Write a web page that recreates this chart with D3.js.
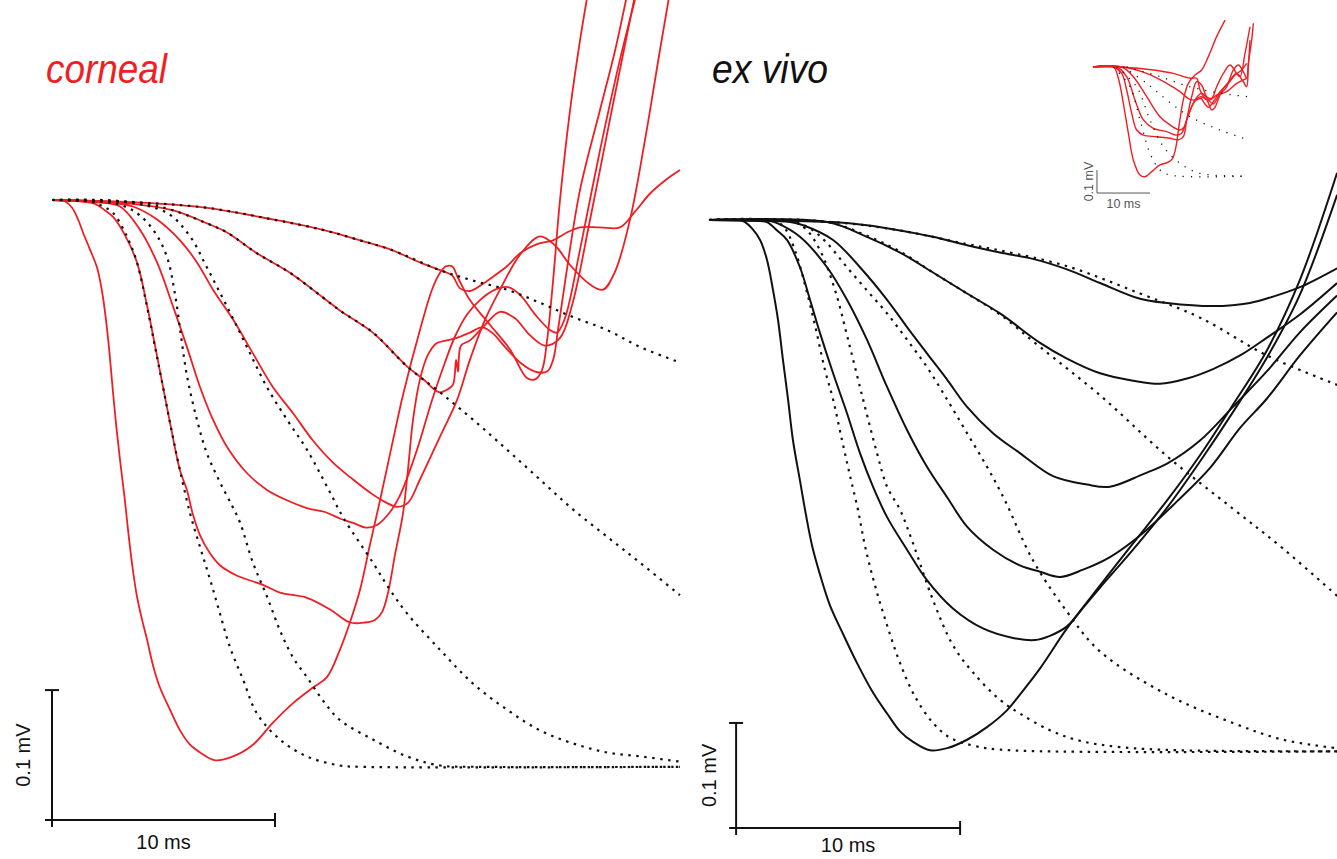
<!DOCTYPE html>
<html>
<head>
<meta charset="utf-8">
<script src="https://cdnjs.cloudflare.com/ajax/libs/d3/7.8.5/d3.min.js"></script>
<style>
  body { margin: 0; background: #fff; }
  text { font-family: Arial, "Liberation Sans", Helvetica, sans-serif; }
</style>
</head>
<body>
<script>
var width = 1337, height = 859;

// time in ms, potential in microvolts
var cornealTraces = [
  [[0,0],[0.36,0],[0.58,-1],[0.90,-6],[1.17,-15],[1.39,-25],[1.70,-38],[2.02,-52],[2.24,-70],[2.42,-92],[2.58,-118],[2.72,-145],[2.87,-172],[3.05,-200],[3.27,-231],[3.41,-254],[3.63,-285],[3.81,-305],[4.04,-323],[4.26,-338],[4.53,-358],[4.84,-375],[5.29,-392],[5.74,-408],[6.19,-419],[6.64,-425],[7.31,-431],[8.12,-428],[9.01,-419],[9.91,-402],[10.81,-387],[11.70,-375],[12.33,-367],[12.91,-346],[13.36,-325],[13.81,-300],[14.26,-265],[14.71,-231],[15.25,-188],[15.74,-150],[16.50,-100],[17.04,-69],[17.40,-56],[17.67,-51],[17.94,-51],[18.21,-60],[18.74,-77],[19.64,-96],[20.54,-115],[21.30,-137],[21.66,-138],[21.97,-131],[22.20,-108],[22.47,-62],[22.78,0],[23.23,69],[23.68,123],[24.13,169]],
  [[0,0],[1.26,-1],[1.93,-3],[2.38,-8],[2.74,-13],[3.27,-27],[3.81,-48],[4.26,-81],[4.62,-112],[4.98,-144],[5.38,-179],[5.74,-208],[6.05,-223],[6.32,-242],[6.64,-258],[7.09,-272],[7.53,-281],[8.30,-289],[9.46,-296],[10.22,-302],[11.43,-306],[12.47,-315],[13.36,-325],[14.04,-325],[14.48,-323],[14.80,-317],[15.07,-302],[15.38,-273],[15.74,-241],[15.96,-208],[16.19,-169],[16.50,-138],[16.86,-119],[17.26,-110],[17.71,-108],[18.16,-106],[18.74,-102],[19.28,-98],[19.73,-102],[20.31,-113],[20.99,-125],[21.66,-132],[22.20,-132],[22.47,-123],[22.69,-100],[23.05,-58],[23.68,8],[24.57,69],[25.25,115],[25.92,169]],
  [[0,0],[2.15,-2],[3.05,-5],[3.95,-23],[4.71,-48],[5.43,-82],[6.05,-113],[6.64,-144],[7.22,-169],[7.85,-190],[8.74,-210],[9.64,-223],[10.54,-231],[11.43,-237],[12.24,-240],[12.91,-245],[13.59,-249],[14.08,-252],[14.57,-250],[15.16,-240],[15.61,-227],[16.05,-208],[16.50,-185],[17.04,-154],[17.62,-125],[18.07,-105],[18.61,-88],[19.19,-77],[19.87,-69],[20.45,-67],[20.99,-73],[21.66,-88],[22.33,-100],[22.65,-102],[23.00,-91],[23.68,-38],[24.57,38],[25.47,108],[26.37,169]],
  [[0,0],[2.60,-2],[3.63,-5],[4.71,-15],[5.74,-31],[6.50,-48],[7.22,-69],[8.12,-92],[9.01,-118],[9.91,-144],[10.81,-164],[11.70,-185],[12.60,-202],[13.50,-215],[14.26,-225],[14.80,-231],[15.47,-236],[15.96,-233],[16.50,-215],[17.40,-182],[18.16,-154],[18.74,-123],[19.42,-92],[20.09,-69],[20.99,-42],[21.88,-28],[22.56,-35],[23.23,-50],[24.13,-65],[24.71,-69],[25.25,-55],[25.92,-15],[26.59,46],[27.26,115],[27.80,169]],
  [[0,0],[3.05,-2],[5.43,-8],[6.95,-18],[7.85,-25],[9.19,-41],[10.67,-56],[12.15,-75],[12.91,-85],[14.39,-102],[15.92,-128],[16.73,-139],[17.09,-145],[17.40,-148],[17.71,-146],[17.98,-142],[18.12,-123],[18.21,-132],[18.34,-112],[18.74,-108],[19.42,-96],[20.09,-86],[20.76,-91],[21.43,-104],[22.11,-112],[22.78,-106],[23.32,-81],[24.13,-15],[25.02,62],[25.83,131],[26.28,169]],
  [[0,0],[3.95,-2],[6.95,-6],[9.91,-15],[12.15,-23],[13.81,-31],[15.16,-38],[16.50,-48],[17.40,-54],[17.94,-58],[18.30,-68],[18.74,-70],[19.28,-65],[19.78,-59],[20.40,-51],[20.99,-41],[21.75,-34],[22.47,-31],[23.09,-25],[23.68,-21],[24.57,-21],[25.47,-21],[26.14,-9],[26.82,5],[27.49,15],[28.16,23]]
];

var cornealFits = [
  [[0,0],[1.70,-1],[2.29,-5],[2.74,-10],[3.36,-28],[3.81,-48],[4.26,-82],[4.62,-113],[4.98,-144],[5.38,-179],[5.74,-208],[6.19,-241],[6.64,-267],[7.09,-292],[7.53,-318],[7.98,-344],[8.57,-369],[9.19,-395],[10.22,-415],[11.43,-428],[12.91,-435],[13.81,-436],[28.16,-436]],
  [[0,0],[2.15,-1],[3.27,-5],[3.95,-12],[4.62,-25],[5.16,-44],[5.52,-73],[5.78,-104],[6.05,-135],[6.50,-169],[6.95,-195],[7.53,-217],[8.07,-235],[8.43,-248],[9.01,-279],[9.64,-305],[10.22,-331],[10.81,-352],[11.43,-367],[12.15,-385],[12.91,-400],[14.39,-415],[15.92,-428],[17.40,-435],[19.19,-436],[28.16,-436]],
  [[0,0],[3.05,-1],[5.16,-10],[6.19,-28],[6.95,-52],[7.85,-82],[8.74,-113],[9.64,-144],[10.54,-169],[11.43,-192],[12.47,-225],[13.05,-244],[14.39,-279],[15.16,-300],[15.92,-318],[17.40,-346],[18.88,-372],[20.40,-392],[21.88,-408],[23.36,-418],[24.89,-425],[26.37,-428],[28.16,-432]],
  [[0,0],[3.95,-2],[5.43,-8],[6.95,-18],[7.85,-25],[9.19,-41],[10.67,-56],[12.15,-75],[12.91,-85],[14.39,-102],[15.92,-128],[17.40,-148],[18.88,-169],[20.40,-192],[21.88,-215],[23.36,-238],[24.89,-259],[26.37,-279],[28.16,-304]],
  [[0,0],[3.95,-2],[6.95,-6],[9.91,-15],[12.15,-23],[13.81,-31],[15.16,-38],[17.40,-54],[18.88,-62],[20.40,-69],[21.88,-79],[23.36,-90],[24.89,-100],[26.37,-113],[28.16,-125]]
];

var exvivoTraces = [
  [[0,0],[1.38,0],[1.61,-2],[1.92,-8],[2.28,-19],[2.59,-38],[2.86,-67],[3.08,-95],[3.30,-133],[3.53,-171],[3.75,-210],[4.06,-248],[4.33,-281],[4.60,-310],[4.96,-338],[5.40,-367],[6.00,-395],[6.61,-422],[7.32,-450],[7.95,-470],[8.53,-487],[9.11,-497],[9.87,-505],[10.63,-503],[11.52,-495],[12.41,-483],[13.30,-467],[13.88,-452],[14.78,-427],[15.98,-389],[17.46,-348],[18.93,-308],[20.45,-267],[21.92,-224],[23.39,-176],[24.91,-124],[26.38,-57],[28.04,45]],
  [[0,0],[2.28,-1],[2.59,-2],[3.04,-10],[3.48,-19],[4.06,-45],[4.51,-76],[4.96,-108],[5.54,-146],[6.16,-184],[6.74,-222],[7.32,-254],[7.95,-283],[8.84,-314],[9.73,-343],[10.89,-370],[12.23,-389],[13.57,-398],[14.55,-400],[15.22,-396],[15.98,-387],[16.79,-367],[17.46,-350],[18.93,-314],[20.45,-274],[21.92,-230],[23.39,-183],[24.91,-131],[26.38,-71],[28.04,24]],
  [[0,0],[2.72,-1],[3.04,-3],[4.06,-16],[5.27,-45],[6.16,-76],[7.05,-114],[7.95,-159],[8.84,-200],[9.73,-235],[10.63,-264],[11.52,-292],[12.68,-314],[13.88,-329],[14.78,-335],[15.67,-340],[16.70,-333],[17.90,-321],[19.38,-298],[20.89,-268],[22.37,-236],[23.71,-198],[24.91,-170],[26.38,-129],[28.04,-88]],
  [[0,0],[3.62,-2],[4.20,-5],[5.54,-19],[6.74,-45],[7.95,-76],[8.84,-102],[9.73,-127],[10.63,-152],[11.52,-178],[12.68,-203],[13.88,-222],[15.36,-244],[16.88,-252],[17.90,-254],[19.38,-242],[20.45,-232],[21.92,-210],[23.39,-178],[24.91,-144],[26.38,-107],[28.04,-72]],
  [[0,0],[5.27,-2],[7.05,-16],[8.53,-31],[10.00,-50],[11.52,-70],[12.99,-89],[14.78,-117],[15.98,-132],[17.46,-146],[18.93,-153],[20.13,-156],[21.34,-151],[22.50,-142],[23.71,-129],[24.91,-112],[26.38,-90],[28.04,-60]],
  [[0,0],[5.54,-2],[7.05,-5],[8.53,-10],[10.00,-16],[11.52,-24],[12.99,-31],[14.46,-37],[15.98,-47],[17.46,-60],[19.24,-75],[20.45,-79],[22.50,-82],[24.15,-79],[25.18,-73],[26.38,-64],[28.04,-46]]
];

var exvivoFits = [
  [[0,0],[2.95,-1],[3.39,-8],[3.84,-29],[4.29,-62],[4.73,-100],[5.18,-143],[5.54,-171],[5.94,-210],[6.29,-243],[6.65,-276],[6.96,-310],[7.41,-348],[7.95,-386],[8.53,-422],[9.20,-454],[10.00,-479],[10.76,-493],[11.88,-501],[13.44,-505],[28.04,-506]],
  [[0,0],[3.62,-1],[4.29,-8],[4.96,-29],[5.63,-67],[6.21,-114],[6.88,-171],[7.50,-222],[7.95,-254],[8.53,-276],[9.11,-308],[10.00,-362],[10.89,-405],[11.79,-431],[12.99,-457],[13.88,-470],[15.22,-486],[16.56,-496],[18.35,-502],[21.03,-505],[28.04,-506]],
  [[0,0],[3.62,-1],[4.51,-8],[5.27,-22],[6.16,-45],[7.05,-67],[7.95,-89],[8.84,-114],[9.73,-140],[10.63,-171],[11.52,-203],[12.41,-235],[13.21,-267],[14.46,-324],[15.98,-373],[17.46,-411],[20.45,-452],[23.39,-479],[25.63,-495],[28.04,-503]],
  [[0,0],[5.27,-2],[7.05,-15],[8.53,-30],[10.00,-50],[11.52,-70],[12.99,-90],[14.78,-121],[17.46,-167],[20.45,-225],[23.39,-275],[25.63,-313],[28.04,-358]],
  [[0,0],[5.54,-2],[8.53,-10],[11.52,-23],[12.99,-29],[15.98,-44],[19.24,-70],[21.92,-93],[24.91,-129],[28.04,-157]]
];

var insetTraces = [
  [[0,0],[3.84,0],[4.78,-49],[5.72,-158],[6.67,-288],[7.61,-404],[8.87,-470],[9.81,-477],[11.07,-455],[12.64,-426],[14.21,-414],[15.03,-397],[15.66,-346],[16.29,-246],[17.04,-143],[17.99,-71],[19.25,-35],[20.50,-13],[21.76,45],[23.33,132],[24.91,204]],
  [[0,0],[3.84,0],[5.41,-28],[6.35,-100],[7.30,-201],[8.24,-274],[9.50,-296],[12.01,-303],[14.53,-310],[16.10,-317],[17.04,-303],[17.67,-230],[18.62,-129],[19.56,-64],[20.50,-78],[21.45,-129],[22.39,-136],[23.33,-86],[24.59,-28],[25.85,9],[27.11,-28],[27.74,-42],[28.68,59],[29.62,175]],
  [[0,0],[4.47,0],[6.35,-42],[7.92,-143],[9.50,-230],[11.38,-267],[13.90,-281],[15.79,-296],[16.73,-288],[17.67,-230],[18.93,-159],[20.19,-130],[21.45,-143],[22.39,-187],[23.02,-175],[23.96,-122],[25.22,-86],[26.48,-13],[27.42,9],[28.36,-20],[28.99,-49],[29.31,16],[29.94,117],[30.25,190]],
  [[0,0],[5.41,0],[7.61,-42],[10.13,-129],[12.64,-216],[14.53,-252],[16.42,-274],[17.17,-262],[17.99,-209],[19.25,-143],[20.50,-114],[21.76,-143],[22.70,-161],[23.96,-114],[25.85,-57],[27.11,-28],[28.36,-64],[28.99,-86],[29.31,1],[29.62,117]],
  [[0,0],[5.72,0],[10.13,-28],[13.90,-71],[16.42,-107],[18.30,-141],[19.56,-143],[20.31,-136],[21.13,-161],[21.76,-175],[22.70,-151],[23.96,-107],[25.53,-71],[26.79,-35],[28.04,-13],[28.99,16]],
  [[0,0],[5.72,-1],[11.38,-13],[15.16,-28],[18.30,-49],[19.56,-49],[20.19,-100],[21.13,-136],[22.08,-143],[23.33,-122],[25.22,-107],[27.11,-71],[28.99,-49]]
];

var insetFits = [
  [[3.84,0],[6.98,-86],[8.87,-230],[10.75,-375],[12.64,-448],[14.53,-470],[29.31,-474]],
  [[4.47,0],[8.24,-86],[10.75,-230],[13.27,-346],[16.42,-419],[20.19,-462],[29.31,-474]],
  [[5.72,0],[10.13,-71],[13.90,-143],[18.30,-216],[23.96,-274],[29.31,-317]],
  [[6.35,0],[12.64,-42],[18.30,-86],[23.96,-114],[29.31,-129]]
];

var panelTitles = ["corneal", "ex vivo"];
var barLabels = ["0.1 mV", "10 ms"];
var barSize = [10, -100];          // 10 ms, 0.1 mV
var barOrigin = [[0, -477], [1.21, -579], [0.75, -548]];

var RED = "#f01e23";

function TraceChart() {

  var svg;

  function _init() {
    console.log("TraceChart::Init");
    svg = d3.select("body").append("svg")
          .attr("width", width)
          .attr("height", height)
          .style("display", "block");
  }

  function _panel(opts) {
    var x = d3.scaleLinear().domain([0, 10]).range(opts.xr);
    var y = d3.scaleLinear().domain([0, -100]).range(opts.yr);

    var line = d3.line()
      .x(function(d) { return x(d[0]); })
      .y(function(d) { return y(d[1]); })
      .curve(d3.curveCatmullRom.alpha(0.5));

    var g = svg.append("g").attr("class", opts.name);

    g.selectAll("path.trace")
      .data(opts.traces)
      .enter().append("path")
        .attr("class", "trace")
        .attr("d", line)
        .attr("fill", "none")
        .attr("stroke", opts.color)
        .attr("stroke-width", opts.sw)
        .attr("stroke-linejoin", "round");

    g.selectAll("path.fit")
      .data(opts.fits)
      .enter().append("path")
        .attr("class", "fit")
        .attr("d", line)
        .attr("fill", "none")
        .attr("stroke", "#111")
        .attr("stroke-width", opts.dotW)
        .attr("stroke-dasharray", opts.dash);

    // scale bars
    var o = opts.bar;
    var bx0 = x(o[0]), by0 = y(o[1]);
    var bx1 = x(o[0] + barSize[0]), by1 = y(o[1] - barSize[1]);
    var bars = g.append("g")
      .attr("stroke", opts.barColor)
      .attr("stroke-width", opts.barW)
      .attr("fill", "none");
    bars.append("line").attr("x1", bx0).attr("y1", by1).attr("x2", bx0).attr("y2", by0 + opts.tick);
    bars.append("line").attr("x1", bx0 - opts.tick).attr("y1", by0).attr("x2", bx1).attr("y2", by0);
    if (opts.tick > 0) {
      bars.append("line").attr("x1", bx0 - opts.tick).attr("y1", by1).attr("x2", bx0 + opts.tick).attr("y2", by1);
      bars.append("line").attr("x1", bx1).attr("y1", by0 - opts.tick).attr("x2", bx1).attr("y2", by0 + opts.tick);
    }

    g.append("text")
      .attr("transform", "translate(" + (bx0 - opts.vOff) + "," + ((by0 + by1) / 2) + ") rotate(-90)")
      .attr("text-anchor", "middle")
      .attr("font-size", opts.fs)
      .attr("fill", opts.barColor)
      .text(barLabels[0]);

    g.append("text")
      .attr("x", (bx0 + bx1) / 2)
      .attr("y", by0 + opts.hOff)
      .attr("text-anchor", "middle")
      .attr("font-size", opts.fs)
      .attr("fill", opts.barColor)
      .text(barLabels[1]);

    if (opts.title) {
      g.append("text")
        .attr("x", opts.titlePos[0])
        .attr("y", opts.titlePos[1])
        .attr("font-size", 40)
        .attr("font-style", "italic")
        .attr("textLength", opts.titleLen)
        .attr("lengthAdjust", "spacingAndGlyphs")
        .attr("fill", opts.titleColor)
        .text(opts.title);
    }
  }

  function _draw() {
    console.log("TraceChart::draw");

    _panel({ name: "corneal", xr: [52, 275], yr: [200, 330],
      traces: cornealTraces, fits: cornealFits, color: RED, sw: 1.8,
      dotW: 2.2, dash: "2.5,5.5", bar: barOrigin[0], barColor: "#111", barW: 2,
      tick: 7, fs: 20, vOff: 22, hOff: 29,
      title: panelTitles[0], titlePos: [46, 83], titleLen: 121, titleColor: RED });

    _panel({ name: "exvivo", xr: [709, 933], yr: [220, 325],
      traces: exvivoTraces, fits: exvivoFits, color: "#111", sw: 2,
      dotW: 2.2, dash: "2.5,5.5", bar: barOrigin[1], barColor: "#111", barW: 2,
      tick: 7, fs: 20, vOff: 20, hOff: 24,
      title: panelTitles[1], titlePos: [712, 83], titleLen: 116, titleColor: "#111" });

    _panel({ name: "inset", xr: [1093, 1146], yr: [67, 90],
      traces: insetTraces, fits: insetFits, color: RED, sw: 1.4,
      dotW: 1.3, dash: "1.2,7", bar: barOrigin[2], barColor: "#555", barW: 1,
      tick: 0, fs: 12.5, vOff: 4, hOff: 15 });
  }

  _init();

  return {
    init: _init,
    draw: _draw
  };
}

var chart = TraceChart();
chart.draw();
</script>
</body>
</html>
